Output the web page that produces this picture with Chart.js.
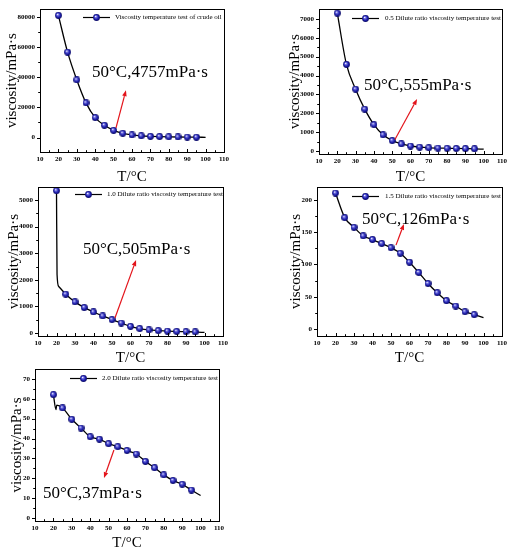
<!DOCTYPE html>
<html><head><meta charset="utf-8">
<script src="https://cdn.jsdelivr.net/npm/chart.js@4.4.0/dist/chart.umd.min.js"></script>
<style>
html,body{margin:0;padding:0;background:#fff}
body{width:511px;height:550px;position:relative;overflow:hidden}
canvas{position:absolute}
</style>
</head><body>
<canvas id="k1"></canvas><canvas id="k2"></canvas><canvas id="k3"></canvas><canvas id="k4"></canvas><canvas id="k5"></canvas>
<script>
// ---------- data ----------
const temps = [20,25,30,35,40,45,50,55,60,65,70,75,80,85,90,95];
const xTicks = [10,20,30,40,50,60,70,80,90,100,110];

const crudeVisc = [81000,56600,38200,23000,13200,8100,4757,2800,1700,1100,800,600,450,350,280,220];
const crudeCurveX = [100];
const crudeCurveY = [150];
const crudeTicks = [0,20000,40000,60000,80000];

const r05Visc = [7300,4590,3280,2220,1400,860,555,380,270,210,175,160,150,140,130,120];
const r05CurveX = [100];
const r05CurveY = [100];
const r05Ticks = [0,1000,2000,3000,4000,5000,6000,7000];

const r10Visc = [5350,1460,1170,955,790,640,505,375,250,165,115,90,70,60,50,40];
const r10CurveX = [20.3,21.2,100];
const r10CurveY = [2200,1750,20];
const r10Ticks = [0,1000,2000,3000,4000,5000];

const r15Visc = [210.8,172.7,157.7,144.3,138.7,132.5,126,117.5,103.6,87.6,70.6,56.2,43.8,35.6,26.8,22.2];
const r15CurveX = [100];
const r15CurveY = [17.5];
const r15Ticks = [0,50,100,150,200];

const r20Visc = [62.1,55.4,49.7,45.3,40.9,39.7,37.4,35.9,34.0,32.2,28.5,25.3,21.7,18.9,17.0,14.1];
const r20CurveX = [21.4,21.8,100];
const r20CurveY = [54.6,56.8,11.3];
const r20Ticks = [0,10,20,30,40,50,60,70];

const labels = [
  'Viscosity temperature test of crude oil',
  '0.5 Dilute ratio viscosity temperature test',
  '1.0 Dilute ratio viscosity temperature test',
  '1.5 Dilute ratio viscosity temperature test',
  '2.0 Dilute ratio viscosity temperature test'
];
const notes = ['50°C,4757mPa·s','50°C,555mPa·s','50°C,505mPa·s','50°C,126mPa·s','50°C,37mPa·s'];

// ---------- helpers ----------
const SERIF = "'Liberation Serif','Times New Roman',serif";

function sphere(){
  const c = document.createElement('canvas');
  c.width = 7; c.height = 7;
  const g = c.getContext('2d');
  const grd = g.createRadialGradient(2.6,2.3,0.2,3.5,3.5,3.6);
  grd.addColorStop(0,'#f2f2ff');
  grd.addColorStop(0.25,'#7070e0');
  grd.addColorStop(0.6,'#2020b0');
  grd.addColorStop(1,'#05055a');
  g.fillStyle = grd;
  g.beginPath(); g.arc(3.5,3.5,3.4,0,Math.PI*2); g.fill();
  return c;
}
const ball = sphere();

function pts(xs, ys){ return xs.map((x,i)=>({x:x,y:ys[i]})); }
function curve(vals, cx, cy){
  const a = pts(temps, vals).concat(pts(cx, cy));
  a.sort((p,q)=>p.x-q.x);
  return a;
}

const framePlugin = {
  id:'frame',
  afterDatasetsDraw(chart, args, o){
    const ctx = chart.ctx, a = chart.chartArea;
    const xs = chart.scales.x, ys = chart.scales.y;
    ctx.save();
    // frame
    ctx.strokeStyle = '#000'; ctx.lineWidth = 1;
    ctx.strokeRect(Math.round(a.left)+0.5, Math.round(a.top)+0.5, Math.round(a.right-a.left), Math.round(a.bottom-a.top));
    // x ticks (inward)
    ctx.beginPath();
    for (let v = xTicks[0]; v <= xTicks[xTicks.length-1]; v += 5){
      const px = Math.round(xs.getPixelForValue(v))+0.5;
      const len = (v % 10 === 0) ? 3 : 1.8;
      ctx.moveTo(px, a.bottom); ctx.lineTo(px, a.bottom-len);
    }
    // y ticks (outward)
    const yt = o.yTicks;
    const step = yt[1]-yt[0];
    for (let i=0;i<yt.length;i++){
      const py = Math.round(ys.getPixelForValue(yt[i]))+0.5;
      ctx.moveTo(a.left, py); ctx.lineTo(a.left-3, py);
      const m = yt[i]+step/2;
      if (ys.getPixelForValue(m) > a.top+1){
        const pm = Math.round(ys.getPixelForValue(m))+0.5;
        ctx.moveTo(a.left, pm); ctx.lineTo(a.left-1.8, pm);
      }
    }
    ctx.stroke();
    // legend
    const lx = a.left + o.legend[0], ly = Math.round(a.top + o.legend[1])+0.5;
    ctx.beginPath(); ctx.strokeStyle='#000'; ctx.lineWidth=1.2;
    ctx.moveTo(lx, ly); ctx.lineTo(lx+27, ly); ctx.stroke();
    ctx.drawImage(ball, lx+13.5-3.5, ly-3.5);
    ctx.fillStyle='#000'; ctx.font = '7px '+SERIF; ctx.textBaseline='middle'; ctx.textAlign='left';
    ctx.fillText(chart.data.datasets[0].label, a.left + o.legend[2], ly);
    // annotation text
    ctx.font = '17px '+SERIF; ctx.textBaseline='middle';
    ctx.fillText(o.note, xs.getPixelForValue(o.noteAt[0]), ys.getPixelForValue(o.noteAt[1]));
    // red arrow
    const x0 = xs.getPixelForValue(o.arrow[0]), y0 = ys.getPixelForValue(o.arrow[1]);
    const x1 = xs.getPixelForValue(o.arrow[2]), y1 = ys.getPixelForValue(o.arrow[3]);
    const ang = Math.atan2(y1-y0, x1-x0), hl = 6, hw = 2.3;
    const bx = x1 - hl*Math.cos(ang), by = y1 - hl*Math.sin(ang);
    ctx.strokeStyle='#e3141b'; ctx.fillStyle='#e3141b'; ctx.lineWidth=1.2;
    ctx.beginPath(); ctx.moveTo(x0,y0); ctx.lineTo(bx,by); ctx.stroke();
    ctx.beginPath(); ctx.moveTo(x1,y1);
    ctx.lineTo(bx + hw*Math.sin(ang), by - hw*Math.cos(ang));
    ctx.lineTo(bx - hw*Math.sin(ang), by + hw*Math.cos(ang));
    ctx.closePath(); ctx.fill();
    ctx.restore();
  }
};

function make(id, g, label, vals, cx, cy, yTicks, ymin, ymax, note, noteAt, arrow, legend){
  const cv = document.getElementById(id);
  cv.width = g.w; cv.height = g.h;
  cv.style.left = g.left+'px'; cv.style.top = g.top+'px';
  cv.style.width = g.w+'px'; cv.style.height = g.h+'px';
  new Chart(cv, {
    type:'line',
    data:{datasets:[
      {label:label, data:pts(temps, vals), showLine:false, pointStyle:ball, pointRadius:3.5, order:0},
      {label:'fit', data:curve(vals, cx, cy), borderColor:'#000', borderWidth:1.3, pointRadius:0,
       cubicInterpolationMode:'monotone', fill:false, order:1}
    ]},
    options:{
      responsive:false, animation:false, devicePixelRatio:1,
      layout:{padding:{left:0, top:g.padTop, right:g.padRight, bottom:0}},
      plugins:{legend:{display:false}, tooltip:{enabled:false},
        frame:{yTicks:yTicks, note:note, noteAt:noteAt, arrow:arrow, legend:legend}},
      scales:{
        x:{type:'linear', min:10, max:110,
          afterBuildTicks:s=>{s.ticks = xTicks.map(v=>({value:v}));},
          afterFit:s=>{s.height = g.xh;},
          grid:{display:false, drawTicks:false}, border:{display:false},
          ticks:{font:{family:SERIF,size:7,weight:'bold'}, color:'#000', padding:3, maxRotation:0, autoSkip:false, callback:v=>String(v)},
          title:{display:true, text:'T/°C', font:{family:SERIF,size:15}, color:'#000', padding:{top:0,bottom:0}}
        },
        y:{type:'linear', min:ymin, max:ymax,
          afterBuildTicks:s=>{s.ticks = yTicks.map(v=>({value:v}));},
          afterFit:s=>{s.width = g.yw;},
          grid:{display:false, drawTicks:false}, border:{display:false},
          ticks:{font:{family:SERIF,size:7,weight:'bold'}, color:'#000', padding:5, autoSkip:false, callback:v=>String(v)},
          title:{display:true, text:'viscosity/mPa·s', font:{family:SERIF,size:15}, color:'#000', padding:{top:g.yTitlePad,bottom:0}}
        }
      }
    },
    plugins:[framePlugin]
  });
}

make('k1', {left:0,top:0,w:250,h:186,padTop:4,padRight:26,xh:34,yw:40,yTitlePad:3},
  labels[0], crudeVisc, crudeCurveX, crudeCurveY, crudeTicks, -9600, 85100,
  notes[0], [38.3,42880], [51.3,6400,56.7,31360], [43,8,75]);
make('k2', {left:255,top:0,w:256,h:186,padTop:4,padRight:9,xh:32,yw:64,yTitlePad:31},
  labels[1], r05Visc, r05CurveX, r05CurveY, r05Ticks, -153, 7511,
  notes[1], [34.6,3475], [51.5,613,63.6,2760], [33,9,66]);
make('k3', {left:0,top:175,w:250,h:192,padTop:12,padRight:27,xh:31,yw:38,yTitlePad:5},
  labels[2], r10Visc, r10CurveX, r10CurveY, r10Ticks, -113, 5489,
  notes[2], [34.3,3120], [51.6,564,63,2744], [37,7,69]);
make('k4', {left:255,top:175,w:256,h:192,padTop:12,padRight:9,xh:31,yw:62,yTitlePad:32},
  labels[3], r15Visc, r15CurveX, r15CurveY, r15Ticks, -10.9, 220.2,
  notes[3], [34.3,169], [52.7,130,57,163], [35,9,68]);
make('k5', {left:0,top:355,w:250,h:197,padTop:14,padRight:31,xh:31,yw:35,yTitlePad:8},
  labels[4], r20Visc, r20CurveX, r20CurveY, r20Ticks, -1.5, 75,
  notes[4], [14.3,12.1], [52.9,34.2,47.5,20.1], [35,9,67]);
</script>
</body></html>
